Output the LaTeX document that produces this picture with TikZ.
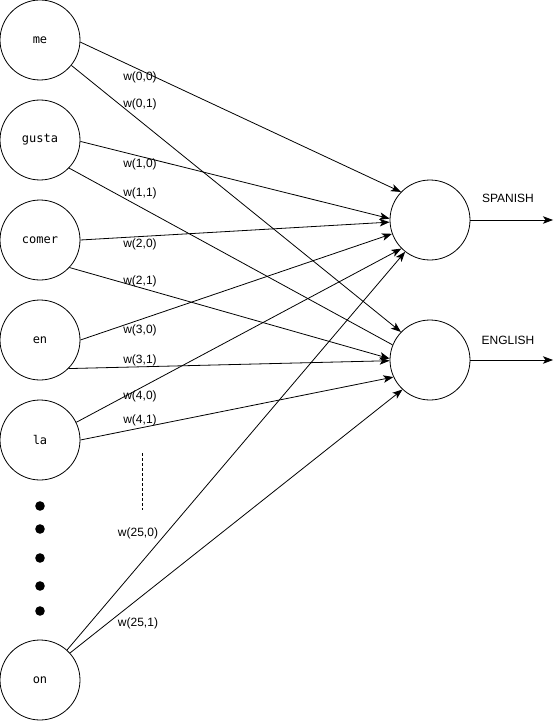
\documentclass[tikz,border=0pt]{standalone}
\usepackage{fontspec}
\setmainfont{Liberation Sans}
\setmonofont{DejaVu Sans Mono}
\usetikzlibrary{arrows.meta}

\begin{document}
\begin{tikzpicture}[x=1pt,y=-1pt,line width=0.8pt,>={Stealth[length=10pt,width=7.5pt,inset=2.5pt]},
    neuron/.style={draw,circle,minimum size=80pt,inner sep=0pt},
    word/.style={font=\ttfamily\fontsize{12}{14}\selectfont},
    weight/.style={font=\fontsize{12}{14}\selectfont,inner sep=0pt},
    lang/.style={font=\fontsize{12}{14}\selectfont,inner sep=0pt}]
    \useasboundingbox (0,0) rectangle (559,722);
    \node[neuron,word] (in0) at (40,40) {me};
    \node[neuron,word] (in1) at (40,140) {gusta};
    \node[neuron,word] (in2) at (40,240) {comer};
    \node[neuron,word] (in3) at (40,340) {en};
    \node[neuron,word] (in4) at (40,440) {la};
    \node[neuron,word] (in25) at (40,680) {on};
    \foreach \y [count=\i] in {506,529,558,586,611}
        \fill (40,\y) circle (4.8pt) coordinate (dot\i);
    \node[neuron] (sp) at (430,220) {};
    \node[neuron] (eng) at (430,360) {};
    \coordinate (spout) at (553,220);
    \coordinate (engout) at (553,360);
    \draw[->] (sp.east) -- (spout);
    \draw[->] (eng.east) -- (engout);
    \node[lang] (splabel) at (508,198) {SPANISH};
    \node[lang] (englabel) at (508,340) {ENGLISH};
    \draw[->] (in0.-3) -- (sp.136);
    \draw[->] (in0.-39) -- (eng.136);
    \draw[->] (in1.-2) -- (sp.178);
    \draw (in1.-44) -- (eng.158);
    \draw[->] (in2.0) -- (sp.183);
    \draw[->] (in2.-43) -- (eng.178);
    \draw[->] (in3.0) -- (sp.200);
    \draw[->] (in3.-45) -- (eng.181);
    \draw[->] (in4.26) -- (sp.225);
    \draw[->] (in4.0) -- (eng.205);
    \draw[->] (in25.48) -- (sp.232);
    \draw[->] (in25.42) -- (eng.227);
    \node[weight] (w00) at (140,77) {w(0,0)};
    \node[weight] (w01) at (140,104) {w(0,1)};
    \node[weight] (w10) at (140,164) {w(1,0)};
    \node[weight] (w11) at (140,193) {w(1,1)};
    \node[weight] (w20) at (140,244) {w(2,0)};
    \node[weight] (w21) at (140,281) {w(2,1)};
    \node[weight] (w30) at (140,330) {w(3,0)};
    \node[weight] (w31) at (140,360) {w(3,1)};
    \node[weight] (w40) at (140,396) {w(4,0)};
    \node[weight] (w41) at (140,420) {w(4,1)};
    \node[weight] (w250) at (138,533) {w(25,0)};
    \node[weight] (w251) at (138,623) {w(25,1)};
    \coordinate (gaptop) at (142,453);
    \coordinate (gapbot) at (142,510);
    \draw[dashed,dash pattern=on 3pt off 2pt] (gaptop) -- (gapbot);
\end{tikzpicture}
\end{document}
